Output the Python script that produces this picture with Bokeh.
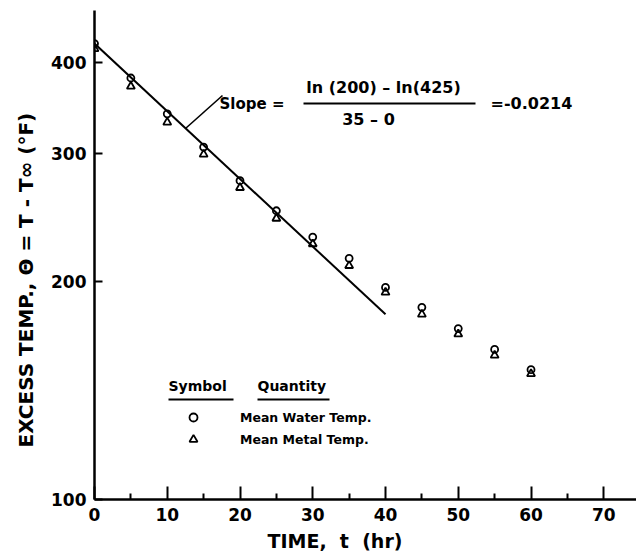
import math
from bokeh.plotting import figure
from bokeh.models import (FixedTicker, PrintfTickFormatter, Label, Arrow,
                          Legend, LegendItem, Range1d, Title)
from bokeh.embed import file_html
from bokeh.resources import INLINE

# ---- data ----
times = [0, 5, 10, 15, 20, 25, 30, 35, 40, 45, 50, 55, 60]
water_temp = [425, 381, 340, 306, 275, 250, 230, 215, 196, 184, 172, 161, 151]
metal_temp = [418, 371, 331, 299, 269, 244, 225, 210, 193, 180, 169, 158, 149]
fit_time = [0, 40]
fit_theta = [425, 180]
x_ticks = [0, 10, 20, 30, 40, 50, 60, 70]
x_minor_ticks = [5, 15, 25, 35, 45, 55, 65]
y_ticks = [100, 200, 300, 400]
series_names = ["Mean Water Temp.", "Mean Metal Temp."]

FONT = "DejaVu Sans"

p = figure(width=636, height=556, output_backend="svg", toolbar_location=None,
           y_axis_type="log", x_range=Range1d(0, 74.5), y_range=Range1d(100, 472),
           min_border_left=94, min_border_right=0, min_border_top=10,
           min_border_bottom=57)
p.outline_line_color = None
p.grid.visible = False
p.background_fill_color = "white"
p.border_fill_color = "white"

# axes
for ax in (p.xaxis[0], p.yaxis[0]):
    ax.axis_line_width = 2.5
    ax.axis_line_color = "black"
    ax.major_tick_line_width = 2
    ax.minor_tick_line_width = 2
    ax.major_tick_out = 0
    ax.minor_tick_out = 0
    ax.major_label_text_font = FONT
    ax.major_label_text_font_style = "bold"
    ax.major_label_text_font_size = "17px"
    ax.major_label_text_color = "black"

p.xaxis.ticker = FixedTicker(ticks=x_ticks, minor_ticks=x_minor_ticks)
p.xaxis.major_tick_in = 13
p.xaxis.minor_tick_in = 6
p.xaxis.major_label_standoff = 8

p.yaxis.ticker = FixedTicker(ticks=y_ticks, minor_ticks=[])
p.yaxis.formatter = PrintfTickFormatter(format="%d")
p.yaxis.major_tick_in = 8
p.yaxis.minor_tick_in = 0
p.yaxis.minor_tick_line_color = None
p.yaxis.major_label_standoff = 8

# axis titles as side titles (so they can be placed off-centre)
p.add_layout(Title(text="EXCESS TEMP., \u0398 = T - T\u221e (\u00b0F)", align="left",
                   offset=52, standoff=22, text_font=FONT, text_font_style="bold",
                   text_font_size="20px", text_color="black"), "left")
p.add_layout(Title(text="TIME,\u00a0 t\u00a0 (hr)", align="left", offset=173, standoff=9,
                   text_font=FONT, text_font_style="bold", text_font_size="19px",
                   text_color="black"), "below")

# fitted line and data
p.line(fit_time, fit_theta, line_width=2, color="black")
r_water = p.scatter(times, water_temp, marker="circle", size=7, line_color="black",
                    line_width=1.8, fill_color=None)
r_metal = p.scatter(times, metal_temp, marker="triangle", size=8, line_color="black",
                    line_width=1.8, fill_color=None)

legend = Legend(items=[LegendItem(label=series_names[0], renderers=[r_water]),
                       LegendItem(label=series_names[1], renderers=[r_metal])],
                location=(89, 49), padding=0, margin=0, spacing=0,
                glyph_width=20, glyph_height=22, label_height=22, label_standoff=37,
                border_line_color=None, background_fill_alpha=0,
                label_text_font=FONT, label_text_font_style="bold",
                label_text_font_size="12.5px", label_text_color="black")
p.add_layout(legend)


def lab(text, x, y, size, align="left"):
    p.add_layout(Label(text=text, x=x, y=y, x_units="screen", y_units="screen",
                       text_font=FONT, text_font_style="bold",
                       text_font_size=size, text_align=align,
                       text_baseline="middle", text_color="black"))


def seg(x0, y0, x1, y1, w=2.0):
    p.add_layout(Arrow(end=None, start=None, x_start=x0, y_start=y0, x_end=x1,
                       y_end=y1, start_units="screen", end_units="screen",
                       line_width=w, line_color="black"))


# slope annotation
lab("Slope =", 125, 396, "15px")
seg(209, 396, 381, 396)
lab("ln (200) \u2013 ln(425)", 289, 412, "16px", "center")
lab("35 \u2013 0", 274, 380, "16px", "center")
lab("=-0.0214", 396, 396, "16px")
seg(128, 404, 91, 371, 1.6)

# legend headers
lab("Symbol", 74, 114, "14px")
seg(74, 100, 139, 100)
lab("Quantity", 163, 114, "14px")
seg(163, 100, 235, 100)

open("out.html", "w").write(file_html(p, INLINE))
